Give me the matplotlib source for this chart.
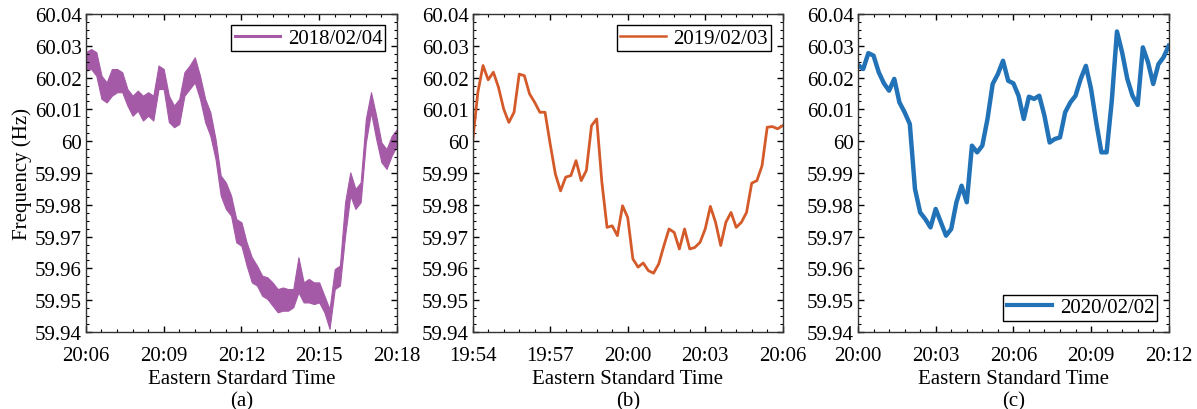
import numpy as np
import matplotlib
matplotlib.use('Agg')
import matplotlib.pyplot as plt
from matplotlib.lines import Line2D
from matplotlib.ticker import MultipleLocator

plt.rcParams['font.family'] = ['Liberation Serif', 'DejaVu Serif']

# sample times, minutes after the first tick (12 s steps)
minutes = np.arange(0, 12.01, 0.2)

# (a) 2018/02/04 - the noise band is wide, so read top and bottom of it
freq_a_hi = [60.0280, 60.0290, 60.0280, 60.0206, 60.0185, 60.0227, 60.0227, 60.0217, 60.0164, 60.0143,
             60.0159, 60.0143, 60.0154, 60.0143, 60.0238, 60.0227, 60.0143, 60.0112, 60.0133, 60.0217,
             60.0238, 60.0264, 60.0206, 60.0133, 60.0091, 60.0007, 59.9892, 59.9870, 59.9829, 59.9755,
             59.9745, 59.9682, 59.9635, 59.9609, 59.9577, 59.9572, 59.9556, 59.9535, 59.9540, 59.9535,
             59.9535, 59.9635, 59.9556, 59.9567, 59.9556, 59.9556, 59.9514, 59.9472, 59.9598, 59.9609,
             59.9808, 59.9902, 59.9850, 59.9870, 60.0070, 60.0154, 60.0080, 59.9996, 59.9975, 60.0017,
             60.0038]
freq_a_lo = [60.0222, 60.0227, 60.0206, 60.0133, 60.0122, 60.0143, 60.0154, 60.0154, 60.0112, 60.0080,
             60.0096, 60.0065, 60.0080, 60.0065, 60.0164, 60.0164, 60.0060, 60.0044, 60.0054, 60.0143,
             60.0164, 60.0185, 60.0133, 60.0060, 60.0017, 59.9944, 59.9829, 59.9787, 59.9766, 59.9682,
             59.9671, 59.9609, 59.9556, 59.9546, 59.9514, 59.9504, 59.9483, 59.9462, 59.9467, 59.9467,
             59.9478, 59.9525, 59.9493, 59.9493, 59.9488, 59.9493, 59.9462, 59.9410, 59.9535, 59.9546,
             59.9703, 59.9829, 59.9787, 59.9808, 59.9996, 60.0091, 60.0007, 59.9934, 59.9913, 59.9955,
             59.9986]

# (b) 2019/02/03
freq_b = [60.0000, 60.0154, 60.0238, 60.0193, 60.0217, 60.0169, 60.0101, 60.0059, 60.0091, 60.0211,
          60.0206, 60.0149, 60.0122, 60.0091, 60.0091, 59.9991, 59.9897, 59.9844, 59.9887, 59.9892,
          59.9939, 59.9876, 59.9908, 60.0049, 60.0070, 59.9871, 59.9729, 59.9734, 59.9703, 59.9797,
          59.9760, 59.9630, 59.9604, 59.9617, 59.9593, 59.9585, 59.9614, 59.9671, 59.9724, 59.9713,
          59.9661, 59.9724, 59.9661, 59.9666, 59.9682, 59.9724, 59.9795, 59.9745, 59.9672, 59.9745,
          59.9776, 59.9729, 59.9745, 59.9776, 59.9868, 59.9876, 59.9923, 60.0044, 60.0046, 60.0039,
          60.0049]

# (c) 2020/02/02
freq_c = [60.0240, 60.0227, 60.0277, 60.0269, 60.0217, 60.0182, 60.0159, 60.0196, 60.0122, 60.0091,
          60.0054, 59.9850, 59.9776, 59.9755, 59.9729, 59.9787, 59.9745, 59.9703, 59.9724, 59.9808,
          59.9860, 59.9808, 59.9986, 59.9965, 59.9986, 60.0070, 60.0180, 60.0211, 60.0253, 60.0190,
          60.0182, 60.0143, 60.0070, 60.0140, 60.0133, 60.0143, 60.0080, 59.9996, 60.0007, 60.0012,
          60.0091, 60.0122, 60.0143, 60.0196, 60.0237, 60.0164, 60.0059, 59.9965, 59.9965, 60.0127,
          60.0345, 60.0279, 60.0196, 60.0143, 60.0114, 60.0295, 60.0248, 60.0180, 60.0242, 60.0264,
          60.0300]

xticks_a = ['20:06', '20:09', '20:12', '20:15', '20:18']
xticks_b = ['19:54', '19:57', '20:00', '20:03', '20:06']
xticks_c = ['20:00', '20:03', '20:06', '20:09', '20:12']
yticks = [59.94, 59.95, 59.96, 59.97, 59.98, 59.99, 60.00, 60.01, 60.02, 60.03, 60.04]
yticklabels = ['59.94', '59.95', '59.96', '59.97', '59.98', '59.99', '60', '60.01', '60.02', '60.03', '60.04']

c_a = '#A55AA8'
c_b = '#D45A2A'
c_c = '#2272B8'
fs = 15

fig = plt.figure(figsize=(11.97, 4.10), dpi=100)
ax1 = fig.add_axes([0.0718, 0.1878, 0.2598, 0.7756])
ax2 = fig.add_axes([0.3949, 0.1878, 0.2590, 0.7756])
ax3 = fig.add_axes([0.7168, 0.1878, 0.2596, 0.7756])

ax1.fill_between(minutes, freq_a_lo, freq_a_hi, color=c_a, lw=0.8)
ax2.plot(minutes, freq_b, color=c_b, lw=2.0)
ax3.plot(minutes, freq_c, color=c_c, lw=3.2)

for ax, labels, xlab in [(ax1, xticks_a, 'Eastern Stardard Time\n(a)'),
                         (ax2, xticks_b, 'Eastern Standard Time\n(b)'),
                         (ax3, xticks_c, 'Eastern Standard Time\n(c)')]:
    ax.set_xlim(0, 12)
    ax.set_ylim(59.94, 60.04)
    ax.set_xticks([0, 3, 6, 9, 12])
    ax.set_xticklabels(labels)
    ax.set_yticks(yticks)
    ax.set_yticklabels(yticklabels)
    ax.xaxis.set_minor_locator(MultipleLocator(0.6))
    ax.yaxis.set_minor_locator(MultipleLocator(0.0025))
    ax.tick_params(which='both', direction='in', top=True, right=True, labelsize=fs)
    ax.tick_params(axis='x', which='major', pad=10)
    ax.tick_params(axis='y', which='major', pad=3)
    ax.tick_params(which='major', length=4, width=1)
    ax.tick_params(which='minor', length=2.5, width=0.8)
    for s in ax.spines.values():
        s.set_linewidth(1.0)
        s.set_color('#333333')
    ax.set_xlabel(xlab, fontsize=fs, linespacing=1.25, labelpad=3)

ax1.set_ylabel('Frequency (Hz)', fontsize=fs, labelpad=2)

for ax, col, lw, lab, loc in [(ax1, c_a, 2.2, '2018/02/04', 'upper right'),
                              (ax2, c_b, 1.8, '2019/02/03', 'upper right'),
                              (ax3, c_c, 3.0, '2020/02/02', 'lower right')]:
    h = Line2D([], [], color=col, lw=lw)
    leg = ax.legend([h], [lab], loc=loc, fontsize=fs, fancybox=False, edgecolor='black',
                    framealpha=1, handlelength=2.2, handletextpad=0.35, borderpad=0.15,
                    borderaxespad=0.55)
    leg.get_frame().set_linewidth(1.0)

fig.savefig('out.png', dpi=100, facecolor='white')
